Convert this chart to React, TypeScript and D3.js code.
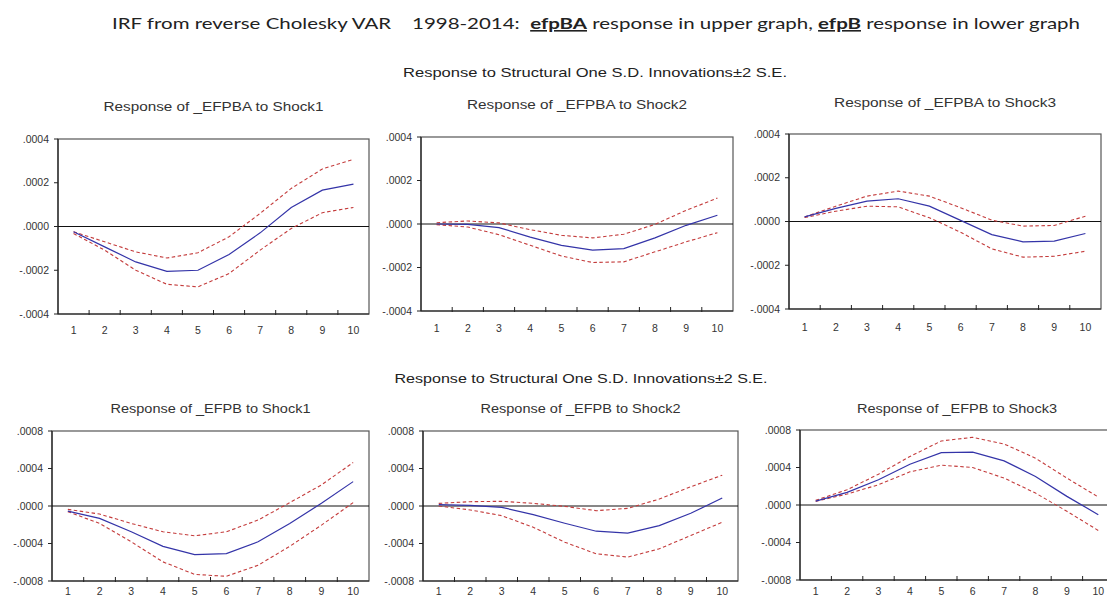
import * as d3 from "d3";

// periods after the shock
const periods = [1, 2, 3, 4, 5, 6, 7, 8, 9, 10];

// upper row: response of _EFPBA
const efpbaShock1 = [-0.000024, -0.000093, -0.000162, -0.000205, -0.0002, -0.000128, -0.000029, 0.000087, 0.000166, 0.000194];
const efpbaShock1Hi = [-0.000024, -0.00007, -0.000116, -0.000144, -0.00012, -0.000047, 0.00006, 0.000174, 0.000263, 0.000307];
const efpbaShock1Lo = [-0.000032, -0.000108, -0.0002, -0.000264, -0.000276, -0.000215, -0.000108, -0.000009, 0.000063, 0.000087];

const efpbaShock2 = [0, -0.000002, -0.000017, -0.00006, -0.000098, -0.00012, -0.000113, -0.000064, -0.000006, 0.00004];
const efpbaShock2Hi = [0.000006, 0.000014, 0.000005, -0.000026, -0.000052, -0.000064, -0.000047, -0.000002, 0.000063, 0.000119];
const efpbaShock2Lo = [-0.000003, -0.000014, -0.000049, -0.000098, -0.000147, -0.000177, -0.000174, -0.000128, -0.000082, -0.00004];

const efpbaShock3 = [0.000021, 0.00006, 0.000093, 0.000104, 0.00007, 0.000005, -0.00006, -0.000093, -0.00009, -0.000055];
const efpbaShock3Hi = [0.000021, 0.00007, 0.000116, 0.000139, 0.000116, 0.000063, 0.000006, -0.000021, -0.000018, 0.000024];
const efpbaShock3Lo = [0.000018, 0.000047, 0.00007, 0.000067, 0.000017, -0.000049, -0.000125, -0.000163, -0.000159, -0.000136];

// lower row: response of _EFPB
const efpbShock1 = [-0.000054, -0.000132, -0.000275, -0.00043, -0.000518, -0.000507, -0.000382, -0.000186, 0.000029, 0.00026];
const efpbShock1Hi = [-0.000036, -0.000086, -0.000186, -0.000275, -0.000318, -0.000275, -0.00015, 0.000036, 0.000225, 0.000464];
const efpbShock1Lo = [-0.00006, -0.000186, -0.000382, -0.000596, -0.000729, -0.00075, -0.000632, -0.00043, -0.000204, 0.000036];

const efpbShock2 = [0.000014, 0.000007, -0.000014, -0.000092, -0.000184, -0.000269, -0.00029, -0.000209, -0.000078, 0.000085];
const efpbShock2Hi = [0.000028, 0.000046, 0.00005, 0.000028, -0.000004, -0.00005, -0.000025, 0.000074, 0.000205, 0.000329];
const efpbShock2Lo = [0, -0.000042, -0.000103, -0.000227, -0.000386, -0.00051, -0.000545, -0.000457, -0.000315, -0.000173];

const efpbShock3 = [0.000042, 0.000135, 0.000269, 0.000435, 0.000559, 0.000563, 0.000471, 0.000304, 0.000092, -0.000103];
const efpbShock3Hi = [0.00005, 0.000163, 0.000329, 0.000517, 0.000683, 0.000722, 0.000651, 0.000499, 0.000287, 0.000085];
const efpbShock3Lo = [0.000039, 0.000117, 0.000216, 0.000354, 0.000425, 0.0004, 0.000287, 0.000127, -0.000067, -0.000272];

const upperTicks = [-0.0004, -0.0002, 0, 0.0002, 0.0004];
const lowerTicks = [-0.0008, -0.0004, 0, 0.0004, 0.0008];

const panelTitles = [
  "Response of _EFPBA to Shock1",
  "Response of _EFPBA to Shock2",
  "Response of _EFPBA to Shock3",
  "Response of _EFPB to Shock1",
  "Response of _EFPB to Shock2",
  "Response of _EFPB to Shock3",
];

const W = 1107;
const H = 598;
const BLUE = "#3434a8";
const RED = "#c43c3c";

const fmt = (v: number) => {
  const s = d3.format(".4f")(v);
  return s.replace("−", "-").replace(/^(-?)0\./, "$1.");
};

type PanelProps = {
  title: string;
  x0: number; x1: number; y0: number; y1: number;
  titleY: number; titleW: number; labelDy: number;
  ticks: number[];
  mid: number[]; hi: number[]; lo: number[];
};

function Panel(p: PanelProps) {
  const x = d3.scaleBand<number>().domain(periods).range([p.x0, p.x1]).padding(0);
  const y = d3.scaleLinear().domain([p.ticks[0], p.ticks[p.ticks.length - 1]]).range([p.y1, p.y0]);
  const cx = (d: number) => (x(d) as number) + x.bandwidth() / 2;
  const line = (vals: number[]) =>
    d3.line<number>().x((_, i) => cx(periods[i])).y((v) => y(v))(vals) || "";
  const midX = (p.x0 + p.x1) / 2;

  return (
    <g>
      <text x={midX} y={p.titleY} textAnchor="middle" fontSize={12} fill="#333"
        fontFamily="Liberation Sans, Arial, sans-serif" textLength={p.titleW} lengthAdjust="spacingAndGlyphs">
        {p.title}
      </text>
      <rect x={p.x0} y={p.y0} width={p.x1 - p.x0} height={p.y1 - p.y0} fill="white" stroke="#555" strokeWidth={1.2} />
      <line x1={p.x0} x2={p.x0} y1={p.y0} y2={p.y1} stroke="#222" strokeWidth={1.2} />
      <line x1={p.x0} x2={p.x1} y1={p.y1} y2={p.y1} stroke="#222" strokeWidth={1.2} />
      <line x1={p.x0} x2={p.x1} y1={y(0)} y2={y(0)} stroke="#111" strokeWidth={1} />
      {p.ticks.map((t) => (
        <g key={t}>
          <line x1={p.x0 - 4} x2={p.x0} y1={y(t)} y2={y(t)} stroke="#222" />
          <text x={p.x0 - 9} y={y(t) + 3.5} textAnchor="end" fontSize={10.5} fill="#333"
            fontFamily="Liberation Sans, Arial, sans-serif">{fmt(t)}</text>
        </g>
      ))}
      {periods.map((d) => (
        <g key={d}>
          {d > 1 && <line x1={x(d)} x2={x(d)} y1={p.y1 - 4} y2={p.y1 + 1} stroke="#222" />}
          <text x={cx(d)} y={p.y1 + p.labelDy} textAnchor="middle" fontSize={10.5} fill="#333"
            fontFamily="Liberation Sans, Arial, sans-serif">{d}</text>
        </g>
      ))}
      <path d={line(p.hi)} fill="none" stroke={RED} strokeWidth={1.1} strokeDasharray="3.5,2.5" />
      <path d={line(p.lo)} fill="none" stroke={RED} strokeWidth={1.1} strokeDasharray="3.5,2.5" />
      <path d={line(p.mid)} fill="none" stroke={BLUE} strokeWidth={1.2} />
    </g>
  );
}

export default function App() {
  const layout = [
    { x0: 58, x1: 369, y0: 139, y1: 314, titleY: 111, titleW: 220, labelDy: 20, ticks: upperTicks, mid: efpbaShock1, hi: efpbaShock1Hi, lo: efpbaShock1Lo },
    { x0: 421, x1: 733, y0: 137, y1: 311, titleY: 109, titleW: 220, labelDy: 21, ticks: upperTicks, mid: efpbaShock2, hi: efpbaShock2Hi, lo: efpbaShock2Lo },
    { x0: 789, x1: 1101, y0: 134, y1: 309, titleY: 107, titleW: 222, labelDy: 22, ticks: upperTicks, mid: efpbaShock3, hi: efpbaShock3Hi, lo: efpbaShock3Lo },
    { x0: 52, x1: 369, y0: 431, y1: 581, titleY: 413, titleW: 200, labelDy: 14, ticks: lowerTicks, mid: efpbShock1, hi: efpbShock1Hi, lo: efpbShock1Lo },
    { x0: 423, x1: 738, y0: 431, y1: 581, titleY: 413, titleW: 200, labelDy: 14, ticks: lowerTicks, mid: efpbShock2, hi: efpbShock2Hi, lo: efpbShock2Lo },
    { x0: 800, x1: 1114, y0: 430, y1: 580, titleY: 413, titleW: 200, labelDy: 15, ticks: lowerTicks, mid: efpbShock3, hi: efpbShock3Hi, lo: efpbShock3Lo },
  ];

  return (
    <svg width={W} height={H} viewBox={`0 0 ${W} ${H}`}
      style={{ position: "absolute", left: 0, top: 0, background: "white" }}>
      <rect width={W} height={H} fill="white" />
      <text x={596} y={29} textAnchor="middle" fontSize={16} fill="#222" style={{ whiteSpace: "pre" }}
        fontFamily="Lato, Open Sans, sans-serif" textLength={968} lengthAdjust="spacingAndGlyphs">
        {"IRF from reverse Cholesky VAR    1998-2014:  "}
        <tspan fontWeight="bold" textDecoration="underline">efpBA</tspan>
        {" response in upper graph, "}
        <tspan fontWeight="bold" textDecoration="underline">efpB</tspan>
        {" response in lower graph"}
      </text>
      <text x={595} y={77} textAnchor="middle" fontSize={13} fill="#222"
        fontFamily="Liberation Sans Narrow, Liberation Sans, sans-serif" textLength={384} lengthAdjust="spacingAndGlyphs">
        Response to Structural One S.D. Innovations±2 S.E.
      </text>
      <text x={581} y={383} textAnchor="middle" fontSize={13} fill="#222"
        fontFamily="Liberation Sans, sans-serif" textLength={373} lengthAdjust="spacingAndGlyphs">
        Response to Structural One S.D. Innovations±2 S.E.
      </text>
      {layout.map((l, i) => (
        <Panel key={i} title={panelTitles[i]} {...l} />
      ))}
    </svg>
  );
}
